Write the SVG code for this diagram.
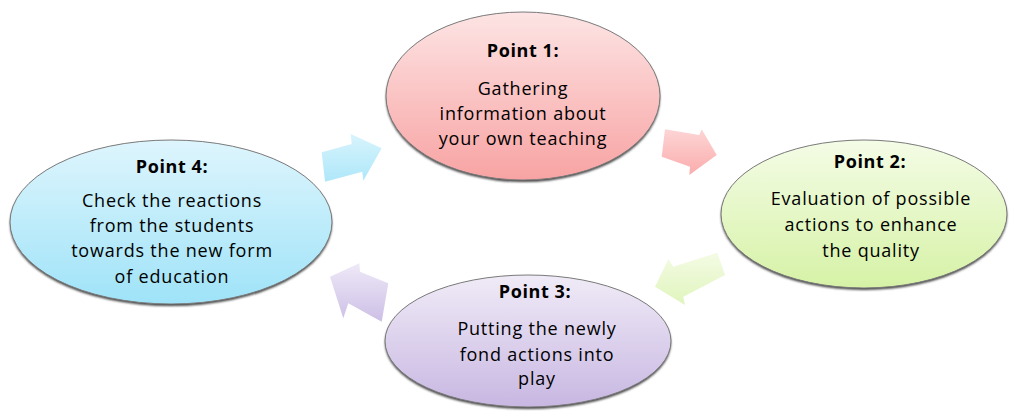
<svg xmlns="http://www.w3.org/2000/svg" width="1010" height="414" viewBox="0 0 1010 414">
<defs>
<linearGradient id="gRed" x1="0" y1="0" x2="0" y2="1"><stop offset="0" stop-color="#fde4e4"/><stop offset="1" stop-color="#f8a3a3"/></linearGradient>
<linearGradient id="gBlue" x1="0" y1="0" x2="0" y2="1"><stop offset="0" stop-color="#def5fd"/><stop offset="1" stop-color="#9fe3f8"/></linearGradient>
<linearGradient id="gGreen" x1="0" y1="0" x2="0" y2="1"><stop offset="0" stop-color="#f4fce6"/><stop offset="1" stop-color="#d6f2a6"/></linearGradient>
<linearGradient id="gPurple" x1="0" y1="0" x2="0" y2="1"><stop offset="0" stop-color="#f0ebf7"/><stop offset="1" stop-color="#c8b7e2"/></linearGradient>
<linearGradient id="aBlue" x1="0" y1="0" x2="0" y2="1"><stop offset="0" stop-color="#d8f4fd"/><stop offset="1" stop-color="#aee7f9"/></linearGradient>
<linearGradient id="aRed" x1="0" y1="0" x2="0" y2="1"><stop offset="0" stop-color="#fdd5d5"/><stop offset="1" stop-color="#fbacac"/></linearGradient>
<linearGradient id="aGreen" x1="0" y1="0" x2="0" y2="1"><stop offset="0" stop-color="#f4fbe4"/><stop offset="1" stop-color="#e0f5bd"/></linearGradient>
<linearGradient id="aPurple" x1="0" y1="0" x2="0" y2="1"><stop offset="0" stop-color="#eee9f7"/><stop offset="1" stop-color="#cdbfe6"/></linearGradient>
<filter id="sh" x="-10%" y="-10%" width="120%" height="130%"><feGaussianBlur stdDeviation="1.2"/></filter>
</defs>
<style>
.node ellipse.body{stroke:#7a7a7a;stroke-width:1}
.shadow{fill:#444;filter:url(#sh)}
text{font-family:"Open Sans","Liberation Sans",sans-serif;font-size:18px;letter-spacing:0.8px;fill:#000;text-anchor:middle}
.t{font-weight:bold;letter-spacing:0.6px}
</style>
<rect width="1010" height="414" fill="#fff"/>
<g id="connectors">
<polygon points="321.7,152.3 351.7,144 350.7,134 381.7,148.3 363.3,180.7 362.3,171.7 325,181.7" fill="url(#aBlue)"/>
<polygon points="665,129.3 699.3,135 701.7,129.3 716.7,155 689.3,175 690,166.7 661.7,156.7" fill="url(#aRed)"/>
<polygon points="717.3,252.7 673.3,266.7 668.3,259.3 655,286.7 685,305 683.3,296.7 725,275" fill="url(#aGreen)"/>
<polygon points="388.3,283.3 360,271.7 359.3,263.3 330,276.7 343.3,318.3 348.3,303.3 381.7,321.7" fill="url(#aPurple)"/>
</g>
<g id="node1" class="node">
<ellipse class="shadow" cx="523" cy="98" rx="137" ry="84"/>
<ellipse class="body" cx="523" cy="96" rx="137" ry="84" fill="url(#gRed)"/>
<text class="t" x="523" y="57">Point 1:</text>
<text x="523" y="95">Gathering</text>
<text x="523" y="120">information about</text>
<text x="523" y="145">your own teaching</text>
</g>
<g id="node2" class="node">
<ellipse class="shadow" cx="864" cy="216" rx="143" ry="74"/>
<ellipse class="body" cx="864" cy="214" rx="143" ry="74" fill="url(#gGreen)"/>
<text class="t" x="870" y="168">Point 2:</text>
<text x="871" y="205">Evaluation of possible</text>
<text x="871" y="231">actions to enhance</text>
<text x="871" y="257">the quality</text>
</g>
<g id="node3" class="node">
<ellipse class="shadow" cx="528" cy="343" rx="143" ry="66"/>
<ellipse class="body" cx="528" cy="341" rx="143" ry="66" fill="url(#gPurple)"/>
<text class="t" x="535" y="298">Point 3:</text>
<text x="537" y="335">Putting the newly</text>
<text x="537" y="361">fond actions into</text>
<text x="537" y="385">play</text>
</g>
<g id="node4" class="node">
<ellipse class="shadow" cx="171" cy="224" rx="161" ry="82"/>
<ellipse class="body" cx="171" cy="222" rx="161" ry="82" fill="url(#gBlue)"/>
<text class="t" x="172" y="173">Point 4:</text>
<text x="172" y="207">Check the reactions</text>
<text x="172" y="232">from the students</text>
<text x="172" y="257">towards the new form</text>
<text x="172" y="283">of education</text>
</g>
</svg>
